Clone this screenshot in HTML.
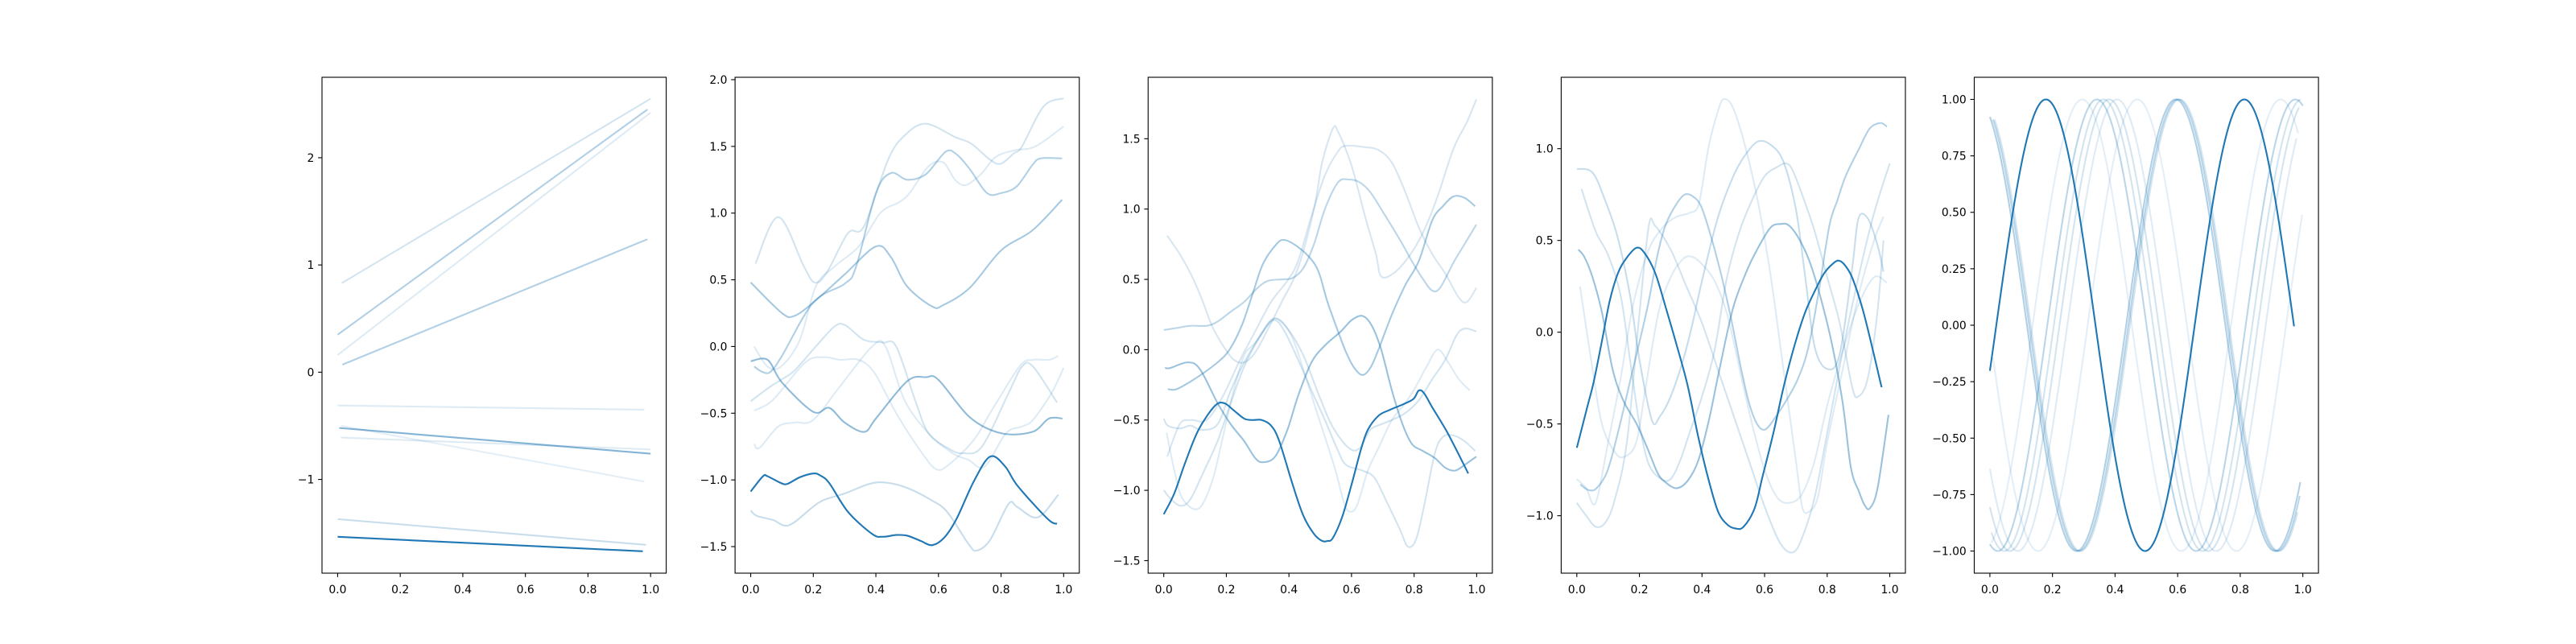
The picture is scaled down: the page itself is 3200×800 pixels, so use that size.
<!DOCTYPE html>
<html><head><meta charset="utf-8"><style>
html,body{margin:0;padding:0;background:#fff;}
svg{display:block;}
text{font-family:"DejaVu Sans","Liberation Sans",sans-serif;font-size:13.9px;fill:#000;}
</style></head><body>
<svg id="fig" width="3200" height="800" viewBox="0 0 3200 800" xmlns="http://www.w3.org/2000/svg"></svg>
<script>
// ---------- data ----------
const xTickVals = [0, 0.2, 0.4, 0.6, 0.8, 1.0];
const xTickLabels = ["0.0", "0.2", "0.4", "0.6", "0.8", "1.0"];

// Panel 1 (straight lines)
const p1X = [[0.013,1.0],[0,1.0],[0.0,0.99],[0.015,0.99],[0,0.98],[0.01,1.0],[0.01,0.98],[0,0.985],[0.005,1.0],[0,0.975]];
const p1Y = [[0.83,2.55],[0.16,2.42],[0.35,2.45],[0.07,1.24],[-0.31,-0.35],[-0.61,-0.72],[-0.5,-1.02],[-1.37,-1.61],[-0.52,-0.76],[-1.535,-1.67]];
const p1Alpha = [0.2,0.15,0.35,0.35,0.15,0.15,0.12,0.25,0.55,1];
const p1YTicks = [-1,0,1,2];
const p1YLabels = ["\u22121","0","1","2"];
const p1YLim = [-1.874, 2.75];

// Panel 2
const p2X = [
 [0.015,0.088,0.17,0.204,0.242,0.311,0.362,0.439,0.491,0.559,0.653,0.705,0.765,0.799,0.842,0.867,0.936,1.0],
 [0.011,0.054,0.097,0.157,0.208,0.268,0.345,0.414,0.473,0.508,0.568,0.615,0.653,0.688,0.739,0.782,0.842,0.91,1.0],
 [0,0.063,0.097,0.14,0.208,0.268,0.302,0.362,0.422,0.465,0.525,0.568,0.636,0.679,0.739,0.824,0.867,0.902,0.979],
 [0.011,0.071,0.174,0.234,0.285,0.345,0.396,0.465,0.542,0.593,0.636,0.713,0.765,0.859,0.902,0.953,0.983],
 [0.011,0.028,0.088,0.14,0.2,0.285,0.388,0.431,0.491,0.568,0.645,0.696,0.747,0.816,0.867,0.902,0.961,1.0],
 [0,0.02,0.071,0.122,0.2,0.234,0.302,0.379,0.431,0.5,0.576,0.628,0.696,0.722,0.765,0.824,0.85,0.902,0.936,0.983],
 [0.011,0.037,0.063,0.1,0.2,0.3,0.337,0.4,0.448,0.5,0.559,0.623,0.658,0.7,0.755,0.8,0.85,0.9,0.927,0.995],
 [0,0.1,0.14,0.2,0.3,0.4,0.448,0.5,0.58,0.615,0.7,0.8,0.9,0.995],
 [0,0.054,0.1,0.2,0.251,0.3,0.363,0.4,0.5,0.56,0.6,0.7,0.8,0.9,0.953,0.996],
 [0,0.039,0.054,0.097,0.118,0.157,0.2,0.221,0.251,0.311,0.388,0.422,0.465,0.5,0.542,0.58,0.619,0.658,0.713,0.765,0.812,0.85,0.927,0.961,0.979]
];
const p2Y = [
 [0.62,0.97,0.6,0.48,0.55,0.85,0.9,1.4,1.58,1.67,1.57,1.52,1.4,1.37,1.45,1.5,1.8,1.86],
 [0,-0.15,-0.15,0.05,0.45,0.6,0.75,1.0,1.08,1.15,1.35,1.38,1.25,1.21,1.3,1.42,1.47,1.5,1.65],
 [-0.41,-0.3,-0.25,-0.18,0,0.15,0.16,0.05,0.03,0,-0.4,-0.65,-0.77,-0.8,-0.75,-0.35,-0.15,-0.15,-0.42],
 [-0.48,-0.4,-0.12,-0.08,-0.1,-0.1,-0.2,-0.5,-0.78,-0.92,-0.88,-0.7,-0.5,-0.15,-0.1,-0.1,-0.07],
 [-0.73,-0.76,-0.6,-0.57,-0.55,-0.3,0,0,-0.4,-0.65,-0.8,-0.85,-0.9,-0.65,-0.6,-0.55,-0.35,-0.16],
 [-1.23,-1.27,-1.3,-1.34,-1.2,-1.15,-1.1,-1.03,-1.02,-1.06,-1.15,-1.24,-1.48,-1.53,-1.45,-1.18,-1.2,-1.28,-1.25,-1.11],
 [-0.15,-0.19,-0.19,-0.07,0.33,0.47,0.6,1.15,1.3,1.25,1.29,1.46,1.44,1.33,1.15,1.15,1.2,1.36,1.41,1.41],
 [0.48,0.25,0.23,0.33,0.54,0.75,0.67,0.45,0.3,0.31,0.44,0.72,0.87,1.1],
 [-0.11,-0.1,-0.27,-0.49,-0.46,-0.57,-0.64,-0.54,-0.26,-0.23,-0.25,-0.53,-0.65,-0.64,-0.54,-0.54],
 [-1.087,-0.973,-0.973,-1.024,-1.029,-0.98,-0.952,-0.965,-1.024,-1.24,-1.405,-1.426,-1.413,-1.418,-1.456,-1.489,-1.431,-1.291,-1.011,-0.825,-0.896,-1.036,-1.24,-1.316,-1.329]
];
const p2Alpha = [0.2,0.15,0.2,0.15,0.15,0.25,0.35,0.4,0.5,1];
const p2YTicks = [-1.5,-1.0,-0.5,0.0,0.5,1.0,1.5,2.0];
const p2YLabels = ["\u22121.5","\u22121.0","\u22120.5","0.0","0.5","1.0","1.5","2.0"];
const p2YLim = [-1.699, 2.018];

// Panel 3
const p3X = [
 [0.011,0.051,0.086,0.12,0.154,0.189,0.223,0.257,0.292,0.334,0.377,0.429,0.48,0.506,0.54,0.557,0.6,0.643,0.678,0.695,0.738,0.789,0.832,0.875,0.926,0.969,0.999],
 [0,0.013,0.051,0.086,0.12,0.172,0.214,0.257,0.309,0.352,0.386,0.429,0.472,0.515,0.557,0.583,0.635,0.673,0.712,0.755,0.78,0.806,0.832,0.866,0.892,0.926,0.961,0.995],
 [0,0.026,0.056,0.086,0.129,0.172,0.214,0.257,0.309,0.352,0.395,0.446,0.497,0.54,0.592,0.626,0.66,0.695,0.729,0.772,0.815,0.858,0.9,0.935,0.961,0.999],
 [0.009,0.034,0.06,0.111,0.154,0.189,0.223,0.257,0.292,0.343,0.377,0.412,0.446,0.48,0.515,0.549,0.575,0.592,0.617,0.652,0.686,0.729,0.772,0.806,0.84,0.875,0.909,0.943,0.978],
 [0.011,0.051,0.086,0.137,0.189,0.24,0.292,0.343,0.395,0.429,0.472,0.515,0.557,0.583,0.643,0.686,0.729,0.772,0.815,0.858,0.9,0.943,0.969,0.999],
 [0,0.043,0.086,0.137,0.172,0.214,0.257,0.3,0.334,0.377,0.412,0.446,0.48,0.515,0.557,0.592,0.626,0.66,0.703,0.755,0.798,0.832,0.858,0.883,0.926,0.961,0.999],
 [0.013,0.034,0.06,0.111,0.172,0.21,0.249,0.283,0.317,0.36,0.386,0.429,0.472,0.497,0.523,0.557,0.583,0.609,0.635,0.66,0.686,0.729,0.772,0.815,0.858,0.892,0.926,0.961,0.995],
 [0.004,0.021,0.077,0.116,0.172,0.214,0.257,0.292,0.317,0.356,0.395,0.429,0.472,0.515,0.566,0.6,0.635,0.665,0.695,0.729,0.763,0.793,0.828,0.866,0.9,0.931,0.961,0.999],
 [0,0.034,0.069,0.111,0.163,0.193,0.223,0.257,0.283,0.313,0.343,0.369,0.412,0.446,0.48,0.506,0.523,0.54,0.57,0.6,0.63,0.652,0.686,0.72,0.763,0.798,0.815,0.832,0.858,0.909,0.973]
];
const p3Y = [
 [0.81,0.68,0.54,0.37,0.17,0.03,-0.07,-0.09,-0.02,0.15,0.34,0.58,1.0,1.33,1.57,1.55,1.31,0.95,0.68,0.52,0.55,0.68,0.85,1.09,1.43,1.62,1.78],
 [-0.49,-0.54,-0.56,-0.54,-0.57,-0.53,-0.29,-0.09,0.1,0.21,0.13,-0.07,-0.29,-0.5,-0.72,-0.82,-0.86,-0.91,-1.08,-1.28,-1.4,-1.35,-1.11,-0.74,-0.62,-0.61,-0.65,-0.72],
 [-1.0,-1.07,-1.11,-1.06,-0.86,-0.65,-0.38,-0.12,0.1,0.22,0.15,-0.04,-0.33,-0.55,-0.7,-0.7,-0.57,-0.53,-0.5,-0.45,-0.36,-0.21,-0.07,0.1,0.15,0.13],
 [-0.59,-0.86,-1.06,-1.13,-0.94,-0.62,-0.29,-0.04,0.05,0.21,0.2,0.08,-0.14,-0.38,-0.62,-0.86,-1.08,-1.15,-1.11,-0.86,-0.7,-0.5,-0.38,-0.26,-0.12,0,-0.09,-0.21,-0.29],
 [-0.76,-0.53,-0.5,-0.5,-0.33,-0.09,0.13,0.34,0.49,0.63,0.95,1.24,1.41,1.45,1.44,1.42,1.33,1.12,0.87,0.68,0.54,0.37,0.34,0.44],
 [0.14,0.155,0.17,0.17,0.2,0.27,0.34,0.44,0.49,0.5,0.51,0.58,0.75,1.0,1.19,1.21,1.19,1.12,0.97,0.78,0.61,0.49,0.42,0.44,0.62,0.75,0.89],
 [-0.28,-0.285,-0.26,-0.19,-0.09,0,0.17,0.39,0.61,0.75,0.78,0.73,0.64,0.54,0.34,0.13,-0.02,-0.13,-0.18,-0.13,0,0.25,0.46,0.63,0.92,1.02,1.09,1.08,1.02],
 [-0.13,-0.13,-0.09,-0.14,-0.38,-0.53,-0.65,-0.77,-0.8,-0.76,-0.57,-0.33,-0.09,0.03,0.13,0.21,0.24,0.17,0,-0.29,-0.53,-0.67,-0.72,-0.77,-0.84,-0.86,-0.82,-0.76],
 [-1.17,-1.02,-0.8,-0.57,-0.4,-0.38,-0.43,-0.49,-0.5,-0.5,-0.54,-0.65,-0.96,-1.18,-1.31,-1.36,-1.36,-1.34,-1.19,-0.96,-0.71,-0.57,-0.47,-0.43,-0.39,-0.35,-0.29,-0.31,-0.41,-0.6,-0.88]
];
const p3Alpha = [0.18,0.2,0.2,0.15,0.18,0.3,0.4,0.45,1];
const p3YTicks = [-1.5,-1.0,-0.5,0.0,0.5,1.0,1.5];
const p3YLabels = ["\u22121.5","\u22121.0","\u22120.5","0.0","0.5","1.0","1.5"];
const p3YLim = [-1.589, 1.937];

// Panel 4
const p4X = [
 [0,0.03,0.06,0.1,0.14,0.18,0.23,0.28,0.32,0.36,0.39,0.42,0.45,0.47,0.5,0.54,0.58,0.62,0.66,0.7,0.72,0.74,0.77,0.8,0.85,0.9,0.95,0.98],
 [0,0.03,0.06,0.09,0.12,0.16,0.2,0.23,0.25,0.3,0.35,0.4,0.45,0.5,0.55,0.6,0.65,0.69,0.72,0.76,0.8,0.85,0.9,0.95,1.0],
 [0.01,0.05,0.08,0.12,0.15,0.19,0.22,0.26,0.3,0.34,0.37,0.4,0.44,0.48,0.52,0.56,0.6,0.64,0.68,0.72,0.76,0.8,0.85,0.9,0.95,0.99],
 [0.015,0.06,0.1,0.14,0.17,0.2,0.23,0.27,0.3,0.33,0.36,0.4,0.44,0.48,0.52,0.56,0.6,0.64,0.67,0.69,0.72,0.76,0.8,0.84,0.88,0.9,0.93,0.96,0.98],
 [0,0.05,0.09,0.13,0.17,0.2,0.24,0.265,0.3,0.34,0.37,0.4,0.45,0.5,0.54,0.58,0.62,0.66,0.7,0.73,0.76,0.8,0.84,0.88,0.9,0.93,0.96,0.98],
 [0.011,0.037,0.063,0.097,0.131,0.174,0.225,0.259,0.285,0.319,0.345,0.371,0.396,0.422,0.456,0.491,0.525,0.551,0.576,0.602,0.636,0.67,0.705,0.739,0.773,0.807,0.833,0.859,0.902,0.936,0.97,0.991],
 [0.005,0.024,0.05,0.08,0.114,0.148,0.191,0.225,0.259,0.285,0.319,0.354,0.388,0.422,0.456,0.499,0.542,0.576,0.619,0.653,0.679,0.713,0.747,0.782,0.816,0.85,0.876,0.902,0.919,0.936,0.961,0.996],
 [0,0.033,0.054,0.08,0.105,0.131,0.157,0.191,0.217,0.251,0.285,0.319,0.354,0.388,0.422,0.452,0.482,0.508,0.533,0.568,0.593,0.628,0.662,0.696,0.73,0.765,0.79,0.816,0.837,0.859,0.884,0.919,0.974]
];
const p4Y = [
 [-0.8,-0.85,-0.93,-0.6,-0.25,0.15,0.45,0.58,0.63,0.65,0.7,1.0,1.2,1.27,1.22,1.0,0.7,0.3,-0.2,-0.7,-0.95,-0.98,-0.9,-0.6,-0.2,0.2,0.5,0.63],
 [-0.93,-1.0,-1.06,-1.04,-0.92,-0.6,0.1,0.58,0.58,0.45,0.25,0.05,-0.2,-0.45,-0.7,-0.95,-1.15,-1.2,-1.12,-0.9,-0.55,-0.1,0.3,0.65,0.92],
 [0.25,-0.2,-0.5,-0.65,-0.68,-0.6,-0.3,0.1,0.3,0.4,0.41,0.37,0.28,0.1,-0.2,-0.5,-0.75,-0.9,-0.93,-0.88,-0.7,-0.4,-0.1,0.15,0.3,0.27],
 [0.78,0.55,0.42,0.2,-0.15,-0.5,-0.72,-0.8,-0.8,-0.7,-0.55,-0.35,-0.1,0.3,0.55,0.72,0.85,0.9,0.92,0.88,0.75,0.55,0.3,0.05,-0.3,-0.35,-0.25,0.1,0.5],
 [0.89,0.87,0.72,0.52,0.2,-0.15,-0.48,-0.46,-0.35,-0.15,0.05,0.28,0.62,0.85,0.97,1.04,1.02,0.93,0.67,0.3,-0.08,-0.2,-0.12,0.35,0.62,0.62,0.48,0.33],
 [-0.83,-0.86,-0.85,-0.76,-0.55,-0.24,0.13,0.43,0.59,0.7,0.75,0.74,0.69,0.56,0.35,0.09,-0.2,-0.39,-0.5,-0.53,-0.46,-0.37,-0.26,-0.09,0.22,0.58,0.72,0.85,1.0,1.11,1.14,1.12],
 [0.45,0.41,0.3,0.11,-0.2,-0.37,-0.5,-0.63,-0.77,-0.82,-0.85,-0.81,-0.7,-0.48,-0.2,0.13,0.33,0.45,0.57,0.59,0.58,0.5,0.37,0.17,-0.07,-0.39,-0.74,-0.87,-0.94,-0.96,-0.85,-0.45],
 [-0.63,-0.41,-0.27,-0.05,0.17,0.32,0.4,0.46,0.43,0.32,0.13,-0.07,-0.29,-0.57,-0.81,-0.98,-1.05,-1.07,-1.06,-0.96,-0.79,-0.55,-0.29,-0.07,0.11,0.24,0.32,0.37,0.39,0.36,0.28,0.09,-0.3]
];
const p4Alpha = [0.15,0.2,0.15,0.2,0.25,0.35,0.45,1];
const p4YTicks = [-1.0,-0.5,0.0,0.5,1.0];
const p4YLabels = ["\u22121.0","\u22120.5","0.0","0.5","1.0"];
const p4YLim = [-1.313, 1.389];

// Panel 5 (extrema of each oscillating series)
const p5ExtX = [
 [-0.163,0.154,0.471,0.788,1.105,1.422],
 [-0.228,0.089,0.406,0.723,1.04,1.357],
 [-0.022,0.295,0.612,0.929,1.246],
 [-0.253,0.064,0.381,0.698,1.015,1.332],
 [-0.271,0.046,0.363,0.68,0.997,1.314],
 [-0.028,0.289,0.606,0.923,1.24],
 [-0.292,0.025,0.342,0.659,0.976,1.293],
 [-0.033,0.284,0.601,0.918,1.235],
 [-0.04,0.277,0.594,0.911,1.228],
 [-0.138,0.179,0.496,0.813,1.13]
];
const p5ExtY = [
 [1,-1,1,-1,1,-1],[1,-1,1,-1,1,-1],[-1,1,-1,1,-1],[1,-1,1,-1,1,-1],[1,-1,1,-1,1,-1],
 [1,-1,1,-1,1],[1,-1,1,-1,1,-1],[1,-1,1,-1,1],[1,-1,1,-1,1],[-1,1,-1,1,-1]
];
const p5Start = [0.01,0.0,0.005,0.0,0.005,0.015,0.0,0.01,0.0,0.0];
const p5End = [1.0,0.98,0.985,0.99,0.995,0.985,1.0,0.99,0.995,0.975];
const p5Alpha = [0.12,0.15,0.12,0.2,0.2,0.2,0.3,0.3,0.35,1];
const p5YTicks = [-1.0,-0.75,-0.5,-0.25,0.0,0.25,0.5,0.75,1.0];
const p5YLabels = ["\u22121.00","\u22120.75","\u22120.50","\u22120.25","0.00","0.25","0.50","0.75","1.00"];
const p5YLim = [-1.098, 1.098];

// ---------- drawing ----------
const NS = "http://www.w3.org/2000/svg";
const svg = document.getElementById("fig");
const AX_TOP = 96, AX_H = 616, AX_W = 427.6;
const XLIM = [-0.05, 1.05];
const TICK = 4.86;

function mk(tag, attrs, parent) {
  const e = document.createElementNS(NS, tag);
  for (const k in attrs) e.setAttribute(k, attrs[k]);
  (parent || svg).appendChild(e);
  return e;
}

function catmull(pts) {
  if (pts.length < 3) return "M" + pts.map(p => p[0].toFixed(2) + "," + p[1].toFixed(2)).join("L");
  let d = "M" + pts[0][0].toFixed(2) + "," + pts[0][1].toFixed(2);
  for (let i = 0; i < pts.length - 1; i++) {
    const p0 = pts[Math.max(0, i - 1)], p1 = pts[i], p2 = pts[i + 1], p3 = pts[Math.min(pts.length - 1, i + 2)];
    const c1x = p1[0] + (p2[0] - p0[0]) / 6, c1y = p1[1] + (p2[1] - p0[1]) / 6;
    const c2x = p2[0] - (p3[0] - p1[0]) / 6, c2y = p2[1] - (p3[1] - p1[1]) / 6;
    d += "C" + c1x.toFixed(2) + "," + c1y.toFixed(2) + " " + c2x.toFixed(2) + "," + c2y.toFixed(2) + " " + p2[0].toFixed(2) + "," + p2[1].toFixed(2);
  }
  return d;
}

function setupAxes(idx, yTicks, yLabels, yLim) {
  const left = 400 + idx * 513.12;
  const sx = v => left + (v - XLIM[0]) / (XLIM[1] - XLIM[0]) * AX_W;
  const sy = v => AX_TOP + AX_H - (v - yLim[0]) / (yLim[1] - yLim[0]) * AX_H;
  const g = mk("g", {});
  
  
  const clipId = "clip" + idx;
  const cp = mk("clipPath", { id: clipId }, g);
  mk("rect", { x: left, y: AX_TOP, width: AX_W, height: AX_H }, cp);
  const lines = mk("g", { "clip-path": "url(#" + clipId + ")" }, g);
  
  
  // x ticks
  xTickVals.forEach((v, i) => {
    const x = sx(v);
    const t = mk("line", { x1: x, x2: x, y1: AX_TOP + AX_H, y2: AX_TOP + AX_H + TICK, stroke: "#000", "stroke-width": 1.1 }, g);
    
    
    const lb = mk("text", { x: x, y: AX_TOP + AX_H + 25, "text-anchor": "middle" }, g);
    lb.textContent = xTickLabels[i];
    
    
  });
  yTicks.forEach((v, i) => {
    const y = sy(v);
    const t = mk("line", { x1: left - TICK, x2: left, y1: y, y2: y, stroke: "#000", "stroke-width": 1.1 }, g);
    
    
    const lb = mk("text", { x: left - 9.7, y: y + 5, "text-anchor": "end" }, g);
    lb.textContent = yLabels[i];
    
    
  });
  const frame = mk("rect", { x: left, y: AX_TOP, width: AX_W, height: AX_H, fill: "none", stroke: "#000", "stroke-width": 1.1 }, g);
  
  
  return { sx, sy, lines };
}

function drawSeries(ax, xs, ys, alpha, k) {
  const pts = xs.map((x, i) => [ax.sx(x), ax.sy(ys[i])]);
  const p = mk("path", { d: catmull(pts), fill: "none", stroke: "#1f77b4", "stroke-opacity": alpha, "stroke-width": 2.1, "stroke-linejoin": "round", "stroke-linecap": "butt" }, ax.lines);
  
  
}

const panels = [
  [p1X, p1Y, p1Alpha, p1YTicks, p1YLabels, p1YLim],
  [p2X, p2Y, p2Alpha, p2YTicks, p2YLabels, p2YLim],
  [p3X, p3Y, p3Alpha, p3YTicks, p3YLabels, p3YLim],
  [p4X, p4Y, p4Alpha, p4YTicks, p4YLabels, p4YLim]
];
panels.forEach((P, idx) => {
  const ax = setupAxes(idx, P[3], P[4], P[5]);
  P[0].forEach((xs, k) => drawSeries(ax, xs, P[1][k], P[2][k], k));
});

// panel 5: smooth half-cosine between consecutive extrema
(function () {
  const ax = setupAxes(4, p5YTicks, p5YLabels, p5YLim);
  p5ExtX.forEach((ex, k) => {
    const ey = p5ExtY[k];
    const pts = [];
    for (let x = p5Start[k]; x <= p5End[k] + 1e-9; x += 0.004) {
      let i = 0;
      while (i < ex.length - 2 && x > ex[i + 1]) i++;
      const t = (x - ex[i]) / (ex[i + 1] - ex[i]);
      const y = (ey[i] + ey[i + 1]) / 2 + (ey[i] - ey[i + 1]) / 2 * Math.cos(Math.PI * t);
      pts.push(ax.sx(x).toFixed(2) + "," + ax.sy(y).toFixed(2));
    }
    const p = mk("path", { d: "M" + pts.join("L"), fill: "none", stroke: "#1f77b4", "stroke-opacity": p5Alpha[k], "stroke-width": 2.1, "stroke-linejoin": "round" }, ax.lines);
    
    
  });
})();
</script>
</body></html>
